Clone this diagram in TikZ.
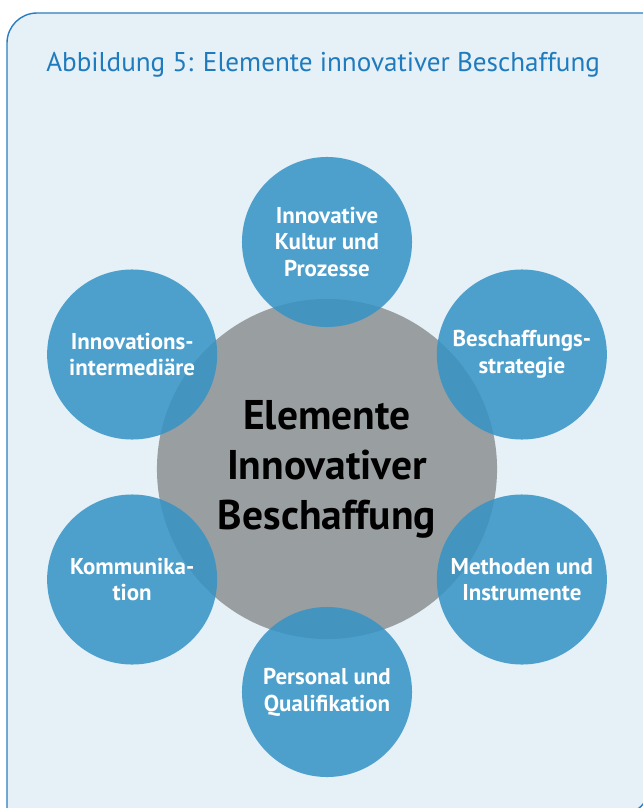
\documentclass[tikz,border=0pt]{standalone}
\usepackage{fontspec}
\setmainfont{PT Sans}
\usepackage{tikz}
\usetikzlibrary{positioning, calc}
\usepackage{xcolor}
\definecolor{boxblue}{HTML}{E5F0F7}
\definecolor{edgeblue}{HTML}{2A7DC0}
\definecolor{titleblue}{HTML}{1E7BBE}
\definecolor{ringblue}{HTML}{3694C5}
\definecolor{coregray}{HTML}{999EA1}

\begin{document}
\begin{tikzpicture}[x=0.025cm, y=-0.025cm]
  \useasboundingbox (0,0) rectangle (643,808);

  % Frame
  \draw[edgeblue, line width=1pt, fill=boxblue] (7,830) -- (7,43)
    arc[start angle=180, end angle=270, radius=30] -- (650,13)
    -- (650,785) arc[start angle=0, end angle=90, radius=30]
    -- (7,815) -- cycle;
  \node[anchor=base west, inner sep=0pt, titleblue,
    font=\fontsize{19.3}{23}\selectfont] (title) at (46,71.7)
    {Abbildung 5: Elemente innovativer Beschaffung};

  % Core
  \node[circle, fill=coregray, minimum size=8.5cm, inner sep=0pt,
    align=center, font=\fontsize{29.5}{35.5}\selectfont\bfseries]
    (core) at (327,469) {Elemente\\Innovativer\\Beschaffung};

  % Elements
  \foreach \n/\a/\t in {kultur/90/{Innovative\\Kultur und\\Prozesse},
    strategie/30/{Beschaffungs-\\strategie},
    methoden/-30/{Methoden und\\Instrumente},
    personal/-90/{Personal und\\Qualifikation},
    kommunikation/-150/{Kommunika-\\tion},
    intermediaere/150/{Innovations-\\intermediäre}} {
    \node[circle, fill=ringblue, fill opacity=0.86, text opacity=1,
      minimum size=4.25cm, inner sep=0pt, align=center, text=white,
      font=\fontsize{16.3}{19}\selectfont\bfseries]
      (\n) at ($(327,467)+({225*cos(\a)},{-225*sin(\a)})$) {\t};
  }
\end{tikzpicture}
\end{document}
